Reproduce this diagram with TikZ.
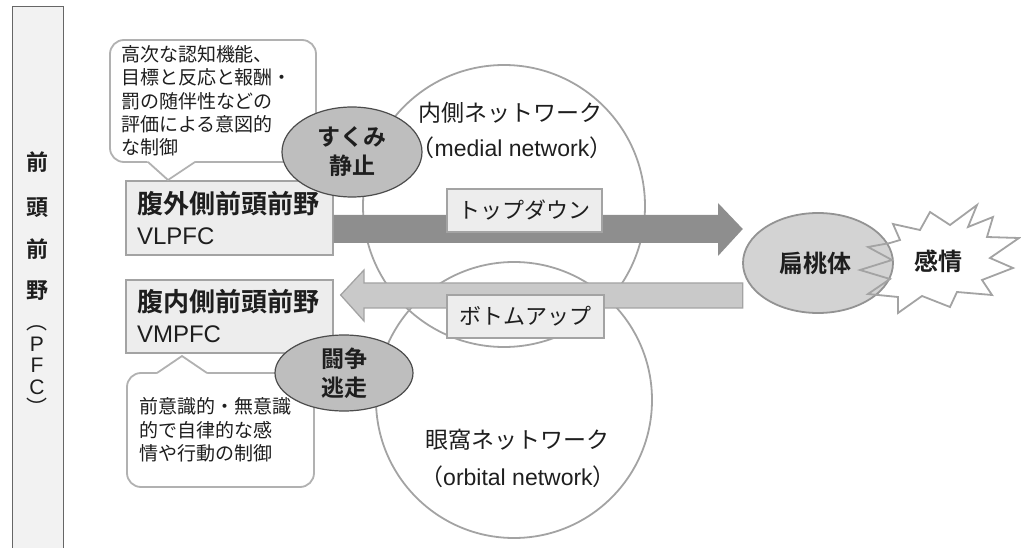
\documentclass[tikz,border=0pt]{standalone}
\usepackage{fontspec}
\setmainfont{Noto Sans CJK JP}[BoldFont={Noto Sans CJK JP Bold}]
\newfontfamily\latinsf{Liberation Sans}
\usetikzlibrary{shapes.geometric,positioning}

\definecolor{linegray}{HTML}{A3A3A3}
\definecolor{boxfill}{HTML}{EDEDED}
\definecolor{barfill}{HTML}{F2F2F2}
\definecolor{tdgray}{HTML}{8E8E8E}
\definecolor{bugray}{HTML}{C9C9C9}
\definecolor{ovalgray}{HTML}{BEBEBE}
\definecolor{amygray}{HTML}{D3D3D3}
\definecolor{ink}{HTML}{1E1E1E}

\tikzset{
  regionbox/.style={draw=linegray, fill=boxfill, line width=1.3pt, rectangle,
    inner sep=0pt, align=left, text=ink, font=\fontsize{24}{31}\selectfont},
  tagbox/.style={draw=linegray, fill=boxfill, line width=1.3pt, rectangle,
    inner sep=0pt, text=ink, font=\fontsize{22}{26}\selectfont},
  callout/.style={draw=linegray!85, fill=white, line width=1.8pt, rectangle,
    rounded corners=14pt, inner sep=0pt, align=left, text=ink,
    font=\fontsize{19}{23.3}\selectfont},
  net/.style={draw=linegray, line width=1.8pt, circle, inner sep=0pt},
  nettext/.style={text=ink, font=\fontsize{23}{26}\selectfont},
  oval/.style={draw=black!70, fill=ovalgray, line width=1.2pt, ellipse,
    inner sep=0pt, align=center, text=ink, font=\bfseries\fontsize{23}{29}\selectfont},
  pfclabel/.style={text=ink, inner sep=0pt, font=\bfseries\fontsize{22}{24}\selectfont},
  pfcsub/.style={text=ink, inner sep=0pt, align=center, font=\fontsize{21}{21.5}\selectfont},
}

\begin{document}
\begin{tikzpicture}[x=1pt,y=-1pt]
  \useasboundingbox (0,0) rectangle (1021,548);

  % left bar
  \filldraw[fill=barfill, draw=black!60, line width=1pt] (12,548) -- (12,7) -- (63,7) -- (63,548);
  \foreach \c/\y in {前/162,頭/208,前/249,野/291}
    \node[pfclabel] (pfc\y) at (37,\y) {\c};
  \node[pfcsub] (pfcname) at (37,371) {︵\\{\latinsf P}\\{\latinsf F}\\{\latinsf C}\\︶};

  % networks
  \node[net, minimum size=282pt] (medial) at (504,206) {};
  \node[net, minimum size=276pt] (orbital) at (514,400) {};
  \node[nettext] (medialjp) at (510,113) {内側ネットワーク};
  \node[nettext] (medialen) at (512,148) {（{\latinsf medial network}）};
  \node[nettext] (orbitaljp) at (517,440) {眼窩ネットワーク};
  \node[nettext] (orbitalen) at (518,477) {（{\latinsf orbital network}）};

  % PFC regions
  \node[regionbox, minimum width=207pt, minimum height=74pt, text width=185pt] (vlpfc) at (229.5,218)
    {{\bfseries\fontsize{26}{31}\selectfont 腹外側前頭前野}\\{\latinsf VLPFC}};
  \node[regionbox, minimum width=207pt, minimum height=73pt, text width=185pt] (vmpfc) at (229.5,316.5)
    {{\bfseries\fontsize{26}{31}\selectfont 腹内側前頭前野}\\{\latinsf VMPFC}};

  % amygdala and emotion
  \node[ellipse, inner sep=0pt, minimum width=150pt, minimum height=100pt] (amyg) at (818,263) {};
  \fill[white] (890,243) -- (868,247) -- (892,260) -- (860,270) -- (890,279) -- (868,294)
    -- (898,297) -- (898,313) -- (922,296) -- (950,307) -- (957,292) -- (992,295) -- (982,280)
    -- (1013,268) -- (990,258) -- (1019,238) -- (987,237) -- (993,217) -- (968,227) -- (977,205)
    -- (950,225) -- (930,212) -- (920,230) -- (893,224) -- (900,240) -- cycle;
  \filldraw[fill=amygray, draw=linegray!90!black, line width=1.8pt] (amyg) ellipse (75 and 50);
  \draw[linegray, line width=1.8pt, line join=miter] (890,243) -- (868,247) -- (892,260) -- (860,270) -- (890,279) -- (868,294)
    -- (898,297) -- (898,313) -- (922,296) -- (950,307) -- (957,292) -- (992,295) -- (982,280)
    -- (1013,268) -- (990,258) -- (1019,238) -- (987,237) -- (993,217) -- (968,227) -- (977,205)
    -- (950,225) -- (930,212) -- (920,230) -- (893,224) -- (900,240) -- cycle;
  \node[text=ink, font=\bfseries\fontsize{24}{28}\selectfont] (amyglabel) at (815,263) {扁桃体};
  \node[text=ink, font=\bfseries\fontsize{24}{28}\selectfont] (emotion) at (938,261) {感情};

  % top-down and bottom-up
  \fill[tdgray] (vlpfc.east |- 0,215) -- (718,215) -- (718,203) -- (amyg.west |- 0,229)
    -- (718,256) -- (718,243) -- (vlpfc.east |- 0,243) -- cycle;
  \filldraw[fill=bugray, draw=linegray, line width=1.3pt] (amyg.west |- 0,283) -- (364,283) -- (364,270)
    -- ([xshift=7pt]vmpfc.east |- 0,295) -- (364,321) -- (364,308) -- (amyg.west |- 0,308) -- cycle;
  \node[tagbox, minimum width=155pt, minimum height=43pt] (topdown) at (524.5,210.5) {トップダウン};
  \node[tagbox, minimum width=157pt, minimum height=43pt] (bottomup) at (525.5,316.5) {ボトムアップ};

  % callouts
  \node[callout, minimum width=206pt, minimum height=122pt, text width=184pt] (vlnote) at (213,101)
    {高次な認知機能、\\目標と反応と報酬・\\罰の随伴性などの\\評価による意図的\\な制御};
  \fill[white] (146,160) -- (168,179) -- (197,160) -- cycle;
  \draw[linegray!85, line width=1.8pt] (148,162) -- (168,180) -- (195,162);
  \node[callout, minimum width=187pt, minimum height=114pt, text width=162pt] (vmnote) at (220.5,430)
    {前意識的・無意識\\的で自律的な感\\情や行動の制御};
  \fill[white] (155,375) -- (182,357) -- (209,375) -- cycle;
  \draw[linegray!85, line width=1.8pt] (157,373) -- (182,356) -- (207,373);

  % reactions
  \node[oval, minimum width=140pt, minimum height=90pt] (freeze) at (352,152) {すくみ\\静止};
  \node[oval, minimum width=138pt, minimum height=76pt] (fight) at (344,373) {闘争\\逃走};
\end{tikzpicture}
\end{document}
